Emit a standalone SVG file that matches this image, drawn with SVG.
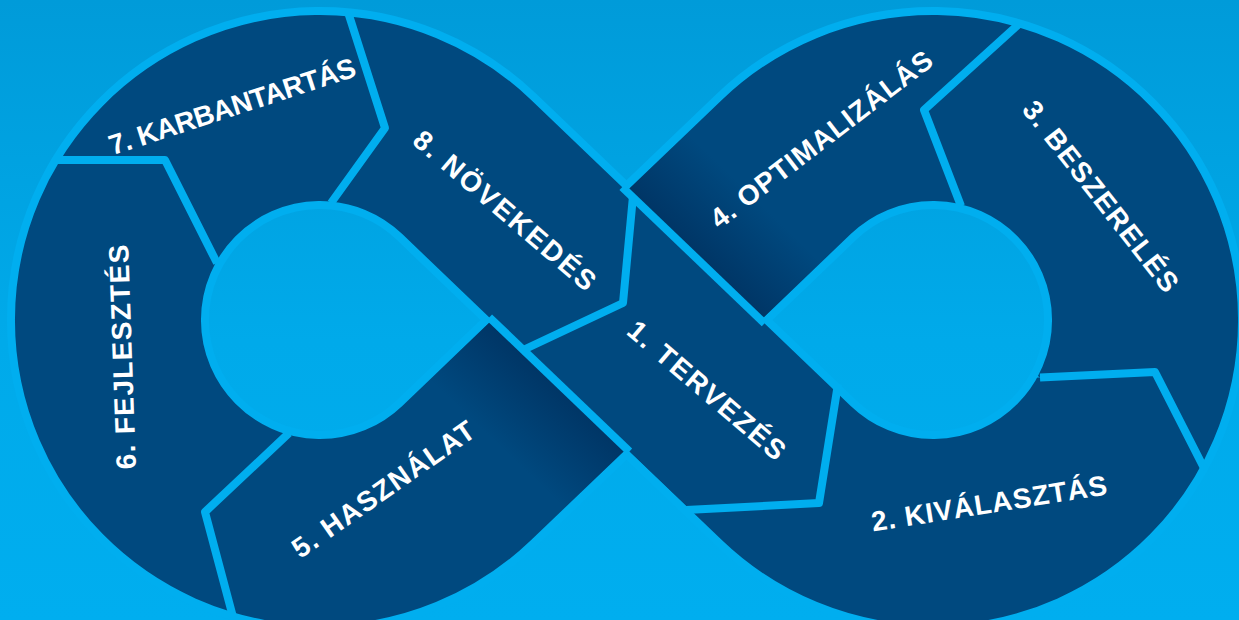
<svg xmlns="http://www.w3.org/2000/svg" xmlns:xlink="http://www.w3.org/1999/xlink" width="1239" height="620" viewBox="0 0 1239 620">
  <defs>
    <linearGradient id="bg" x1="0" y1="0" x2="0" y2="1">
      <stop offset="0" stop-color="#009bd9"/>
      <stop offset="0.55" stop-color="#00aaea"/>
      <stop offset="1" stop-color="#00aeef"/>
    </linearGradient>
    <linearGradient id="sh4" gradientUnits="userSpaceOnUse" x1="694" y1="255" x2="752" y2="195">
      <stop offset="0" stop-color="#002550" stop-opacity="0.55"/>
      <stop offset="1" stop-color="#002550" stop-opacity="0"/>
    </linearGradient>
    <linearGradient id="sh5" gradientUnits="userSpaceOnUse" x1="559" y1="385" x2="500" y2="447">
      <stop offset="0" stop-color="#002550" stop-opacity="0.55"/>
      <stop offset="1" stop-color="#002550" stop-opacity="0"/>
    </linearGradient>
    <path id="band" fill="none" d="M 466.6,166.9 L 786.4,473.1 A 212 212 0 1 0 786.4,166.9 L 466.6,473.1 A 212 212 0 1 1 466.6,166.9 Z"/>
    <clipPath id="c1"><polygon points="633,197 761,320 839,372 836,392 819,503 690,510 523,350 623,303"/></clipPath>
    <clipPath id="c2"><polygon points="660,512 819,503 836,392 839,372 933,380 1040,377.5 1155,372 1205,470 1240,520 1240,640 640,640 640,525"/></clipPath>
    <clipPath id="c3"><polygon points="1205,470 1155,372 1040,377.5 933,300 961,206 924,110 1019,24 1040,-10 1240,-10 1240,520"/></clipPath>
    <clipPath id="c4"><polygon points="626.5,-10 626.5,191 761,320 900,300 961,206 924,110 1019,24 1040,-10"/></clipPath>
    <clipPath id="c5"><polygon points="492,320 626.5,449 626.5,640 236,640 233,617 205,512 289,433 320,380 400,340"/></clipPath>
    <clipPath id="c6"><polygon points="236,640 0,640 0,160 54,160 165,160 217,263 300,320 289,433 205,512 233,617"/></clipPath>
    <clipPath id="c7"><polygon points="0,160 0,-10 345,-10 348.6,14 385,128 331,203 300,300 217,263 165,160 54,160"/></clipPath>
    <clipPath id="c8"><polygon points="345,-10 348.6,14 385,128 331,203 400,300 492,320 523,350 623,303 633,197 626.5,191 626.5,-10"/></clipPath>
  </defs>
  <style>
    .seg { stroke: #00497f; stroke-width: 186; fill: none; }
    .lbl { font-family: "Liberation Sans", Arial, "Helvetica", sans-serif; font-weight: bold; font-size: 28px; fill: #ffffff; text-anchor: middle; }
    .sep { fill: none; stroke: #00aeef; stroke-width: 8; stroke-linejoin: round; stroke-linecap: butt; }
  </style>

  <rect width="1239" height="620" fill="url(#bg)"/>
  <use id="outline" xlink:href="#band" href="#band" stroke="#00aeef" stroke-width="202" fill="none"/>

  <g id="node-1">
    <use xlink:href="#band" href="#band" class="seg" clip-path="url(#c1)"/>
    <text class="lbl" transform="translate(707,390) rotate(40.5)" y="10" textLength="198" lengthAdjust="spacing">1. TERVEZÉS</text>
  </g>
  <g id="node-2">
    <use xlink:href="#band" href="#band" class="seg" clip-path="url(#c2)"/>
    <text class="lbl" transform="translate(989,503) rotate(-9)" y="10" textLength="238" lengthAdjust="spacing">2. KIVÁLASZTÁS</text>
  </g>
  <g id="node-3">
    <use xlink:href="#band" href="#band" class="seg" clip-path="url(#c3)"/>
    <text class="lbl" transform="translate(1101,196) rotate(52)" y="10" textLength="234" lengthAdjust="spacing">3. BESZERELÉS</text>
  </g>
  <g id="node-4">
    <use xlink:href="#band" href="#band" class="seg" clip-path="url(#c4)"/>
    <use xlink:href="#band" href="#band" stroke="url(#sh4)" stroke-width="186" fill="none" clip-path="url(#c4)"/>
    <text class="lbl" transform="translate(821,139) rotate(-37.5)" y="10" textLength="272" lengthAdjust="spacing">4. OPTIMALIZÁLÁS</text>
  </g>
  <g id="node-5">
    <use xlink:href="#band" href="#band" class="seg" clip-path="url(#c5)"/>
    <use xlink:href="#band" href="#band" stroke="url(#sh5)" stroke-width="186" fill="none" clip-path="url(#c5)"/>
    <text class="lbl" transform="translate(383,489) rotate(-35)" y="10" textLength="216" lengthAdjust="spacing">5. HASZNÁLAT</text>
  </g>
  <g id="node-6">
    <use xlink:href="#band" href="#band" class="seg" clip-path="url(#c6)"/>
    <text class="lbl" transform="translate(122,357) rotate(-92)" y="10" textLength="225" lengthAdjust="spacing">6. FEJLESZTÉS</text>
  </g>
  <g id="node-7">
    <use xlink:href="#band" href="#band" class="seg" clip-path="url(#c7)"/>
    <text class="lbl" transform="translate(232,106) rotate(-18)" y="10" textLength="258" lengthAdjust="spacing">7. KARBANTARTÁS</text>
  </g>
  <g id="node-8">
    <use xlink:href="#band" href="#band" class="seg" clip-path="url(#c8)"/>
    <text class="lbl" transform="translate(505,210) rotate(40.5)" y="10" textLength="230" lengthAdjust="spacing">8. NÖVEKEDÉS</text>
  </g>

  <g id="separators">
    <polyline class="sep" points="54,160 165,160 217,263"/>
    <polyline class="sep" points="348.6,14 385,128 331,203"/>
    <polyline class="sep" points="289,433 205,512 233,617"/>
    <polyline class="sep" points="633,196 623,303 521,351"/>
    <polyline class="sep" points="838,384 819,503 686,510"/>
    <polyline class="sep" points="1040,377.5 1155,372 1205,470"/>
    <polyline class="sep" points="961,206 924,110 1019,24"/>
    <line class="sep" x1="622.2" y1="187.1" x2="764.5" y2="323.4"/>
    <line class="sep" x1="489.3" y1="317.3" x2="629.4" y2="451.5"/>
  </g>
</svg>
